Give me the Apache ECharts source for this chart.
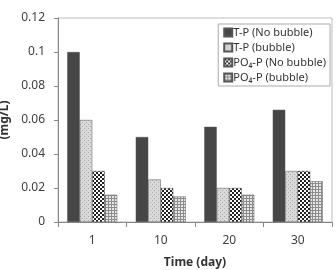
<!DOCTYPE html>
<html>
<head>
    <meta charset="utf-8">
    <title>Phosphorus chart</title>
    <script src="https://cdn.jsdelivr.net/npm/echarts@6/dist/echarts.min.js"></script>
    <style>
        html, body { margin: 0; padding: 0; background: #fff; }
        #main { width: 336px; height: 270px; }
    </style>
</head>
<body>
    <div id="main"></div>
    <script type="text/javascript">
        var days = ['1', '10', '20', '30'];
        var tpNoBubble = [0.1, 0.05, 0.056, 0.066];
        var tpBubble = [0.06, 0.025, 0.02, 0.03];
        var po4NoBubble = [0.03, 0.02, 0.02, 0.03];
        var po4Bubble = [0.016, 0.015, 0.016, 0.024];
        var seriesNames = ['T-P (No bubble)', 'T-P (bubble)', 'PO₄-P (No bubble)', 'PO₄-P (bubble)'];

        // little canvases used as fill patterns
        function makePattern(size, draw) {
            var c = document.createElement('canvas');
            c.width = size; c.height = size;
            draw(c.getContext('2d'));
            return { image: c, repeat: 'repeat' };
        }
        var dotted = makePattern(4, function (g) {
            g.fillStyle = '#d9d9d9'; g.fillRect(0, 0, 4, 4);
            g.fillStyle = '#a8a8a8'; g.fillRect(0, 0, 1, 1); g.fillRect(2, 2, 1, 1);
        });
        var checker = makePattern(4, function (g) {
            g.fillStyle = '#fff'; g.fillRect(0, 0, 4, 4);
            g.fillStyle = '#222'; g.fillRect(0, 0, 2, 2); g.fillRect(2, 2, 2, 2);
        });
        var gridPat = makePattern(3, function (g) {
            g.fillStyle = '#e6e6e6'; g.fillRect(0, 0, 3, 3);
            g.fillStyle = '#8c8c8c'; g.fillRect(0, 0, 3, 1); g.fillRect(0, 0, 1, 3);
        });

        var fills = ['#464646', dotted, checker, gridPat];
        var values = [tpNoBubble, tpBubble, po4NoBubble, po4Bubble];
        var font = 'Noto Sans';

        var myChart = echarts.init(document.getElementById('main'));
        myChart.setOption({
            animation: false,
            grid: {
                left: 58, right: 4, top: 18, bottom: 48,
                outerBoundsMode: 'none',
                containLabel: false,
                show: true, borderColor: '#bdbdbd', borderWidth: 1
            },
            legend: {
                orient: 'vertical',
                right: 6, top: 24,
                padding: [3, 4, 3, 5],
                borderColor: '#aaa', borderWidth: 1,
                itemWidth: 8, itemHeight: 8, itemGap: 4,
                icon: 'rect',
                textStyle: { fontSize: 11, color: '#333', fontFamily: font, padding: [0, 0, 0, -4] },
                data: seriesNames
            },
            xAxis: {
                type: 'category',
                data: days,
                name: 'Time (day)',
                nameLocation: 'middle',
                nameGap: 35,
                nameTextStyle: { fontSize: 12, fontWeight: 'bold', color: '#333', fontFamily: font },
                axisLine: { lineStyle: { color: '#888' } },
                axisTick: { show: true, length: 5, lineStyle: { color: '#888' } },
                axisLabel: { fontSize: 12, color: '#404040', margin: 13, fontFamily: font }
            },
            yAxis: {
                type: 'value',
                min: 0, max: 0.12, interval: 0.02,
                name: '(mg/L)',
                nameLocation: 'middle',
                nameGap: 43,
                nameTextStyle: { fontSize: 12, fontWeight: 'bold', color: '#333', fontFamily: font },
                axisLine: { show: true, lineStyle: { color: '#888' } },
                axisTick: { show: true, length: 4, lineStyle: { color: '#888' } },
                splitLine: { show: false },
                axisLabel: {
                    fontSize: 12, color: '#404040', margin: 13, fontFamily: font,
                    formatter: function (v) { return String(+v.toFixed(2)); }
                }
            },
            series: seriesNames.map(function (name, i) {
                return {
                    name: name,
                    type: 'bar',
                    data: values[i],
                    barGap: '0%',
                    barCategoryGap: '27%',
                    itemStyle: { color: fills[i], borderColor: '#555', borderWidth: 0.5 }
                };
            })
        });
    </script>
</body>
</html>
